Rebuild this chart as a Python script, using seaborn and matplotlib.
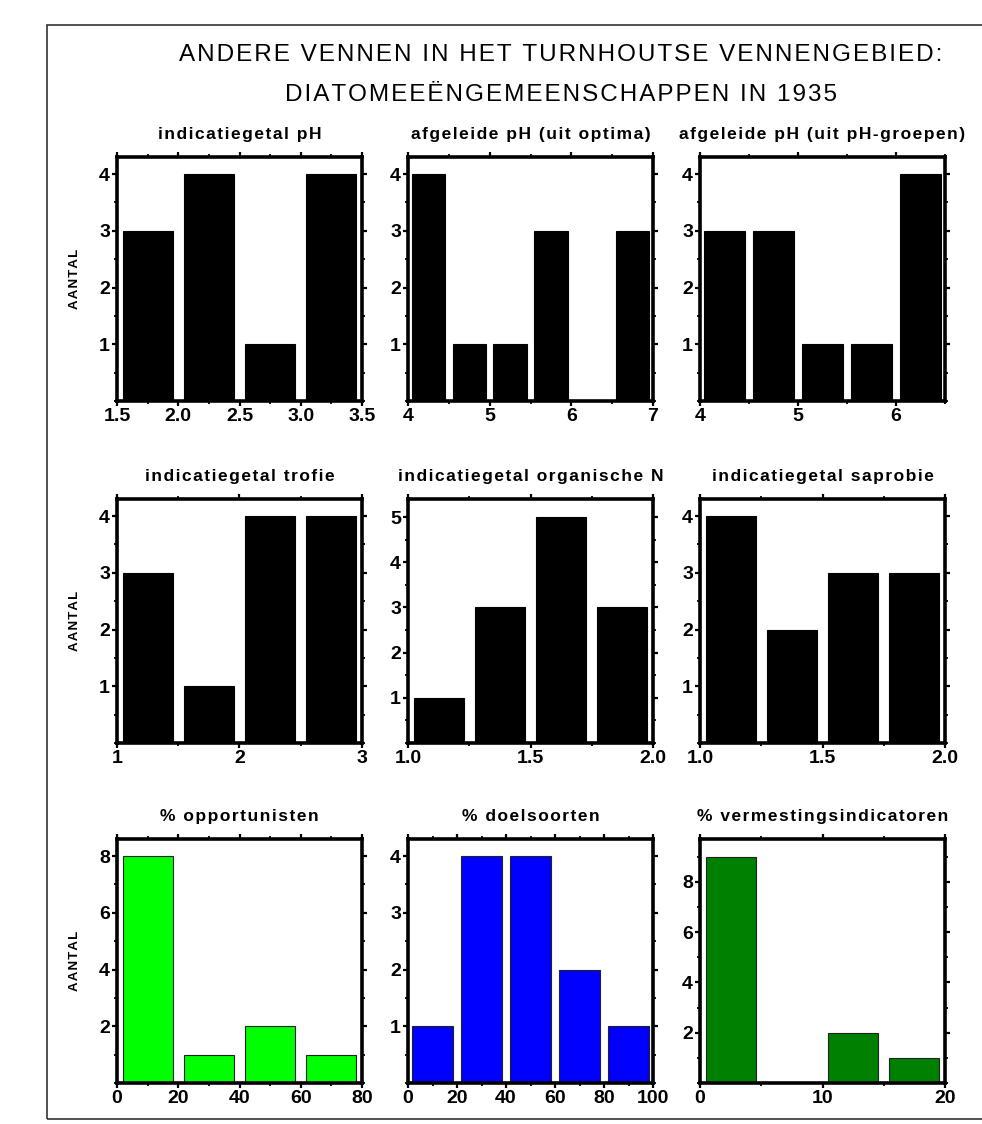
import numpy as np
import pandas as pd
import seaborn as sns
import matplotlib.pyplot as plt
from matplotlib.patches import Rectangle
from matplotlib.ticker import MultipleLocator

# bin edges and counts per panel
ph_edges = [1.5, 2.0, 2.5, 3.0, 3.5]
ph_counts = [3, 4, 1, 4]
opt_edges = [4.0, 4.5, 5.0, 5.5, 6.0, 6.5, 7.0]
opt_counts = [4, 1, 1, 3, 0, 3]
grp_edges = [4.0, 4.5, 5.0, 5.5, 6.0, 6.5]
grp_counts = [3, 3, 1, 1, 4]
trof_edges = [1.0, 1.5, 2.0, 2.5, 3.0]
trof_counts = [3, 1, 4, 4]
orgn_edges = [1.0, 1.25, 1.5, 1.75, 2.0]
orgn_counts = [1, 3, 5, 3]
sapr_edges = [1.0, 1.25, 1.5, 1.75, 2.0]
sapr_counts = [4, 2, 3, 3]
opp_edges = [0, 20, 40, 60, 80]
opp_counts = [8, 1, 2, 1]
doel_edges = [0, 20, 40, 60, 80, 100]
doel_counts = [1, 4, 4, 2, 1]
verm_edges = [0, 5, 10, 15, 20]
verm_counts = [9, 0, 2, 1]

titles = ["indicatiegetal pH", "afgeleide pH (uit optima)", "afgeleide pH (uit pH-groepen)",
          "indicatiegetal trofie", "indicatiegetal organische N", "indicatiegetal saprobie",
          "% opportunisten", "% doelsoorten", "% vermestingsindicatoren"]


def spaced(s):
    # mimic the wide letter spacing of the original
    return "\u200a".join(s)


sns.set_style("ticks")
plt.rcParams['font.family'] = ['Liberation Sans', 'DejaVu Sans']
plt.rcParams['font.weight'] = 'bold'
plt.rcParams['text.color'] = 'black'
plt.rcParams['axes.labelcolor'] = 'black'
plt.rcParams['xtick.color'] = 'black'
plt.rcParams['ytick.color'] = 'black'
plt.rcParams['axes.edgecolor'] = 'black'

fig = plt.figure(figsize=(9.82, 11.24), dpi=100)

panels = [
    (ph_edges, ph_counts, "black", 4.3, [1.5, 2.0, 2.5, 3.0, 3.5], "%.1f", 0.25, [1, 2, 3, 4]),
    (opt_edges, opt_counts, "black", 4.3, [4, 5, 6, 7], "%d", 0.5, [1, 2, 3, 4]),
    (grp_edges, grp_counts, "black", 4.3, [4, 5, 6], "%d", 0.5, [1, 2, 3, 4]),
    (trof_edges, trof_counts, "black", 4.3, [1, 2, 3], "%d", 0.5, [1, 2, 3, 4]),
    (orgn_edges, orgn_counts, "black", 5.4, [1.0, 1.5, 2.0], "%.1f", 0.25, [1, 2, 3, 4, 5]),
    (sapr_edges, sapr_counts, "black", 4.3, [1.0, 1.5, 2.0], "%.1f", 0.25, [1, 2, 3, 4]),
    (opp_edges, opp_counts, "#00ff00", 8.6, [0, 20, 40, 60, 80], "%d", 10, [2, 4, 6, 8]),
    (doel_edges, doel_counts, "#0000ff", 4.3, [0, 20, 40, 60, 80, 100], "%d", 10, [1, 2, 3, 4]),
    (verm_edges, verm_counts, "#008000", 9.7, [0, 10, 20], "%d", 5, [2, 4, 6, 8]),
]

lefts = [117, 408, 700]
bottoms = [401, 743, 1083]
W, H = 982, 1124

for i, (edges, counts, color, ymax, xt, fmt, xminor, yt) in enumerate(panels):
    r, c = divmod(i, 3)
    ax = fig.add_axes([lefts[c] / W, 1 - bottoms[r] / H, 245 / W, 244 / H])
    centers = [(a + b) / 2 for a, b in zip(edges[:-1], edges[1:])]
    edge_col = "black" if color == "black" else "#222222"
    sns.histplot(x=centers, weights=counts, bins=edges, shrink=0.82, color=color,
                 alpha=1, edgecolor=edge_col, linewidth=0.8, ax=ax)
    ax.set_xlim(edges[0], edges[-1])
    ax.set_ylim(0, ymax)
    ax.set_xticks(xt)
    ax.set_xticklabels([fmt % v for v in xt])
    ax.set_yticks(yt)
    ax.xaxis.set_minor_locator(MultipleLocator(xminor))
    if yt[1] - yt[0] == 1:
        ax.yaxis.set_minor_locator(MultipleLocator(0.5))
    else:
        ax.yaxis.set_minor_locator(MultipleLocator(1))
    for s in ax.spines.values():
        s.set_linewidth(2.6)
        s.set_visible(True)
    ax.tick_params(which="major", direction="out", length=3.5, width=1.6,
                   top=True, right=True, labelsize=14, pad=1.5)
    ax.tick_params(which="minor", direction="out", length=2.5, width=1.3,
                   top=True, right=True)
    ax.set_title(spaced(titles[i]), fontsize=12.5, fontweight="bold", pad=13)
    ax.set_xlabel("")
    if c == 0:
        ax.set_ylabel(spaced("AANTAL"), fontsize=9.5, fontweight="bold", labelpad=13)
    else:
        ax.set_ylabel("")

fig.text(0.571, 0.951, spaced("ANDERE VENNEN IN HET TURNHOUTSE VENNENGEBIED:"),
         ha="center", va="center", fontsize=17.5, fontweight="normal")
fig.text(0.571, 0.9155, spaced("DIATOMEEËNGEMEENSCHAPPEN IN 1935"),
         ha="center", va="center", fontsize=17.5, fontweight="normal")

fig.patches.append(Rectangle((47 / W, 1 - 1119 / H), 1.0, (1119 - 25) / H,
                             transform=fig.transFigure, fill=False,
                             edgecolor="#333333", linewidth=1.2))

fig.savefig("out.png", dpi=100)
